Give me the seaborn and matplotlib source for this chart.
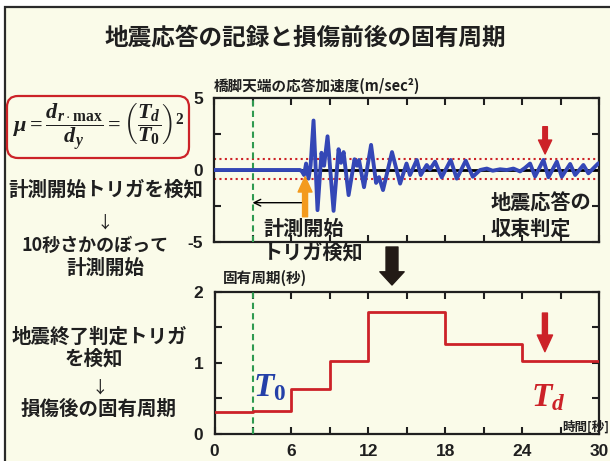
import numpy as np
import pandas as pd
import matplotlib
matplotlib.use("Agg")
import matplotlib.pyplot as plt
import seaborn as sns
from matplotlib.patches import Rectangle, FancyBboxPatch

# ---- data -------------------------------------------------------------
# acceleration at the pier top (time [s], value [m/s^2]), turning points of the record
acc_time = [0.00, 6.70, 6.85, 7.01, 7.17, 7.36, 7.52, 7.75, 8.06, 8.37, 8.57,
            8.84, 9.31, 9.70, 9.89, 10.09, 10.48, 10.94, 11.14, 11.29, 11.68,
            12.23, 12.62, 12.85, 13.16, 13.86, 14.49, 14.99, 15.26, 15.79,
            16.10, 16.56, 16.82, 17.21, 17.73, 18.43, 18.90, 19.60, 20.15,
            20.72, 21.24, 21.70, 22.27, 22.80, 23.31, 23.83, 24.22, 24.61,
            25.00, 25.65, 26.04, 26.69, 27.08, 27.73, 28.12, 28.76, 29.15,
            29.93, 30.00]
acc_value = [0.00, 0.00, -0.10, -0.35, 0.45, -0.60, 0.30, 3.45, -2.80, 1.20, 0.30,
             2.35, -2.85, 1.45, 0.50, 1.25, -1.75, 0.75, 0.30, 0.70, -1.20,
             1.75, -0.90, -0.50, -1.40, 1.25, -0.95, 0.45, -0.35, 0.70,
             -0.35, 0.35, 0.05, 0.58, -0.51, 0.70, -0.60, 0.65, -0.47,
             0.00, 0.10, -0.05, 0.05, 0.00, 0.10, -0.10, 0.15, 0.45,
             -0.45, 0.70, -0.50, 0.58, -0.47, 0.42, -0.35, 0.35, -0.23,
             0.47, 0.45]
# convergence thresholds (m/s^2)
acc_thresholds = [0.75, -0.60]

# natural period estimated in each window (start time [s], period [s])
period_time = [0, 3, 6, 9, 12, 18, 24, 30]
period_value = [0.31, 0.33, 0.63, 1.02, 1.71, 1.27, 1.02, 1.02]

trigger_time = 3.0

acc_yticks = [-5, -2.5, 0, 2.5, 5]
acc_yticklabels = ["-5", "", "0", "", "5"]
period_yticks = [0, 0.5, 1, 1.5, 2]
period_yticklabels = ["0", "", "1", "", "2"]
time_ticks = list(range(0, 31, 3))
time_ticklabels = [str(t) if t % 6 == 0 else "" for t in time_ticks]

# ---- style ------------------------------------------------------------
sns.set_theme(style="ticks")
plt.rcParams["font.family"] = ["Noto Sans CJK JP", "DejaVu Sans"]
plt.rcParams["mathtext.fontset"] = "custom"
plt.rcParams["mathtext.rm"] = "Liberation Serif:bold"
plt.rcParams["mathtext.it"] = "Liberation Serif:italic:bold"
plt.rcParams["mathtext.bf"] = "Liberation Serif:bold"

CREAM = "#fafbe9"
BLUE = "#3447b6"
RED = "#cc2228"
GREEN = "#2f9a50"
ORANGE = "#f39a1d"
INK = "#1f1f1f"

W, H = 610, 461
fig = plt.figure(figsize=(W / 100, H / 100), dpi=100, facecolor="white")

# background layer in pixel units
bg = fig.add_axes([0, 0, 1, 1])
bg.set_zorder(0)
bg.axis("off")
bg.add_patch(Rectangle((5, 7), 800, 600, facecolor=CREAM, edgecolor="#2a2a2a", lw=1.6))

# title and underline
bg.text(305, 38, "地震応答の記録と損傷前後の固有周期", ha="center", va="center",
        fontsize=17, fontweight="bold", color=INK)
u = np.linspace(0, 1, 400)
alpha = np.clip(1 - np.abs(u - 0.45) / 0.55, 0, 1) ** 1.3
grad = np.zeros((1, u.size, 4))
grad[..., 0], grad[..., 1], grad[..., 2] = 0.10, 0.16, 0.45
grad[..., 3] = alpha
bg.imshow(grad, extent=(55, 530, 59.5, 55.5), aspect="auto", interpolation="bilinear")

# formula box
bg.add_patch(FancyBboxPatch((7, 96), 182, 62, boxstyle="round,pad=0,rounding_size=11",
                            facecolor="none", edgecolor=RED, lw=1.6))
bg.text(99, 127,
        r"$\mu = \dfrac{d_{r\cdot\max}}{d_y} = \left(\dfrac{T_d}{T_0}\right)^2$",
        ha="center", va="center", fontsize=16, color=INK)

left_kw = dict(ha="center", va="center", fontsize=14, fontweight="bold", color=INK)
bg.text(106, 190, "計測開始トリガを検知", **left_kw)
bg.text(105, 223, "↓", ha="center", va="center", fontsize=12, color=INK)
bg.text(95, 245, "10秒さかのぼって", ha="center", va="center", fontsize=13,
        fontweight="bold", color=INK)
bg.text(105, 268, "計測開始", **left_kw)
bg.text(99, 337, "地震終了判定トリガ", **left_kw)
bg.text(94, 359, "を検知", **left_kw)
bg.text(100, 388, "↓", ha="center", va="center", fontsize=12, color=INK)
bg.text(99, 409, "損傷後の固有周期", **left_kw)

# panel captions
bg.text(214, 86, "橋脚天端の応答加速度(m/sec²)", ha="left", va="center",
        fontsize=10.5, fontweight="bold", color=INK)
bg.text(223, 278, "固有周期(秒)", ha="left", va="center",
        fontsize=10.5, fontweight="bold", color=INK)
bg.text(562, 427, "時間[秒]", ha="left", va="center",
        fontsize=9, fontweight="bold", color=INK)

# arrow between panels
bg.annotate("", xy=(392, 285), xytext=(392, 247),
            arrowprops=dict(arrowstyle="simple,head_length=0.95,head_width=1.75,tail_width=0.86",
                            color="#221a16", shrinkA=0, shrinkB=0, mutation_scale=10))
bg.set_xlim(0, W)
bg.set_ylim(H, 0)


def style_axes(ax):
    ax.set_facecolor("none")
    for s in ax.spines.values():
        s.set_linewidth(1.6)
        s.set_color(INK)
    ax.tick_params(direction="in", top=True, right=True, length=5, width=1.5,
                   colors=INK, labelsize=12.5)
    for lbl in ax.get_xticklabels() + ax.get_yticklabels():
        lbl.set_fontfamily("Liberation Sans")
        lbl.set_fontweight("bold")
    ax.set_xlabel("")
    ax.set_ylabel("")


# ---- acceleration record ---------------------------------------------
ax1 = fig.add_axes([214 / W, 1 - 241.7 / H, 385.3 / W, 143.4 / H])
ax1.set_zorder(2)
acc_df = pd.DataFrame({"time": acc_time, "acc": acc_value})
ax1.axhline(0, color="black", lw=2, zorder=2)
for thr in acc_thresholds:
    ax1.axhline(thr, color=RED, lw=1.5, ls=(0, (1, 1.6)), zorder=2)
sns.lineplot(data=acc_df, x="time", y="acc", ax=ax1, color=BLUE, lw=2.8,
             sort=False, estimator=None, zorder=4)
ax1.axvline(trigger_time, color=GREEN, lw=1.5, ls=(0, (3, 2)), zorder=3)
ax1.set_xlim(0, 30)
ax1.set_ylim(-5, 5)
ax1.set_xticks(time_ticks)
ax1.set_xticklabels([])
ax1.set_yticks(acc_yticks)
ax1.set_yticklabels(acc_yticklabels)
style_axes(ax1)
ax1.tick_params(axis="y", pad=8)

ax1.annotate("", xy=(3.0, -2.28), xytext=(6.96, -2.28),
             arrowprops=dict(arrowstyle="->", color="black", lw=1.0,
                             shrinkA=0, shrinkB=0, mutation_scale=12))
ax1.annotate("", xy=(7.09, -0.47), xytext=(7.09, -3.26),
             arrowprops=dict(arrowstyle="simple,head_length=1.1,head_width=1.0,tail_width=0.36",
                             color=ORANGE, shrinkA=0, shrinkB=0, mutation_scale=10),
             zorder=5)
ax1.annotate("", xy=(25.78, 1.12), xytext=(25.78, 3.02),
             arrowprops=dict(arrowstyle="simple,head_length=1.0,head_width=0.95,tail_width=0.33",
                             color=RED, shrinkA=0, shrinkB=0, mutation_scale=10),
             zorder=5)
txt_kw = dict(ha="left", va="center", fontsize=14.5, fontweight="bold", color=INK,
              clip_on=False, zorder=6)
ax1.text(3.82, -4.05, "計測開始", **txt_kw)
ax1.text(3.82, -5.72, "トリガ検知", **txt_kw)
ax1.text(21.5, -2.30, "地震応答の", **txt_kw)
ax1.text(21.5, -4.05, "収束判定", **txt_kw)

# ---- natural period ---------------------------------------------------
ax2 = fig.add_axes([214.5 / W, 1 - 434 / H, 384.5 / W, 142.3 / H])
ax2.set_zorder(2)
period_df = pd.DataFrame({"time": period_time, "period": period_value})
sns.lineplot(data=period_df, x="time", y="period", ax=ax2, color=RED, lw=2.0,
             drawstyle="steps-post", estimator=None, zorder=4)
ax2.axvline(trigger_time, color=GREEN, lw=1.5, ls=(0, (3, 2)), zorder=3)
ax2.set_xlim(0, 30)
ax2.set_ylim(0, 2)
ax2.set_xticks(time_ticks)
ax2.set_xticklabels(time_ticklabels)
ax2.set_yticks(period_yticks)
ax2.set_yticklabels(period_yticklabels)
style_axes(ax2)
ax2.tick_params(axis="y", pad=8)
ax2.tick_params(axis="x", pad=7)

ax2.annotate("", xy=(25.78, 1.157), xytext=(25.78, 1.70),
             arrowprops=dict(arrowstyle="simple,head_length=1.2,head_width=1.1,tail_width=0.36",
                             color=RED, shrinkA=0, shrinkB=0, mutation_scale=10),
             zorder=5)
ax2.text(4.33, 0.66, r"$T_0$", ha="center", va="center", fontsize=24, color="#2440a8", zorder=6)
ax2.text(26.0, 0.53, r"$T_d$", ha="center", va="center", fontsize=24, color=RED, zorder=6)

fig.savefig("out.png", dpi=100, facecolor=fig.get_facecolor())
